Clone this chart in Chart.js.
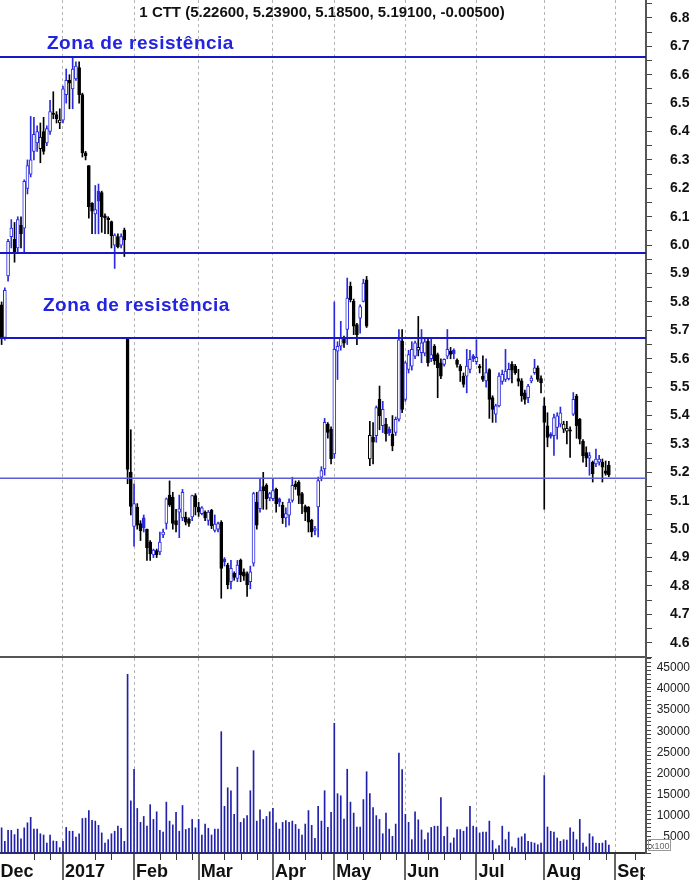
<!DOCTYPE html>
<html lang="pt">
<head>
<meta charset="UTF-8">
<title>CTT - Zona de resistência</title>
<script src="https://cdn.jsdelivr.net/npm/chart.js"></script>
<style>
  body { margin: 0; background: #fff; }
  #wrap { position: relative; width: 694px; height: 880px; }
  #priceChart { position: absolute; left: 0; top: 0; }
  #volChart { position: absolute; left: 0; top: 658px; }
</style>
</head>
<body>
<div id="wrap">
  <canvas id="priceChart" width="694" height="658"></canvas>
  <canvas id="volChart" width="694" height="222"></canvas>
</div>
<script>
// daily candles, Dec 2016 - Aug 2017 (one entry per trading day)
const opens = [
  5.79, 5.675, 5.892, 6.03, 6.02, 5.99, 6.07, 6.06, 6.20, 6.25,
  6.33, 6.36, 6.34, 6.40, 6.36, 6.40, 6.465, 6.46, 6.43, 6.44,
  6.53, 6.58, 6.55, 6.585, 6.625, 6.53, 6.325, 6.28, 6.147, 6.11,
  6.19, 6.185, 6.103, 6.095, 6.083, 6.00, 6.03, 6.00, 6.053, 5.674,
  5.20, 5.01, 5.078, 5.02, 5.04, 5.00, 4.955, 4.909, 4.925, 4.92,
  4.98, 5.02, 5.12, 5.113, 5.03, 5.06, 5.04, 5.043, 5.035, 5.043,
  5.118, 5.078, 5.055, 5.06, 5.031, 5.066, 4.996, 5.00, 5.025, 4.895,
  4.874, 4.815, 4.845, 4.827, 4.891, 4.85, 4.844, 4.815, 4.88, 5.095,
  5.072, 5.15, 5.154, 5.11, 5.107, 5.14, 5.107, 5.084, 5.04, 5.049,
  5.101, 5.16, 5.165, 5.125, 5.08, 5.078, 5.031, 4.996, 5.078, 5.183,
  5.212, 5.37, 5.352, 5.265, 5.627, 5.644, 5.674, 5.703, 5.855, 5.802,
  5.72, 5.743, 5.802, 5.878, 5.247, 5.323, 5.329, 5.457, 5.364, 5.37,
  5.352, 5.335, 5.341, 5.387, 5.662, 5.457, 5.562, 5.574, 5.609, 5.63,
  5.621, 5.62, 5.662, 5.60, 5.644, 5.615, 5.586, 5.58, 5.609, 5.627,
  5.63, 5.595, 5.574, 5.539, 5.539, 5.562, 5.61, 5.59, 5.574, 5.539,
  5.522, 5.562, 5.463, 5.405, 5.434, 5.52, 5.527, 5.53, 5.58, 5.574,
  5.53, 5.522, 5.48, 5.463, 5.522, 5.551, 5.568, 5.53, 5.434, 5.364,
  5.335, 5.329, 5.358, 5.37, 5.352, 5.345, 5.35, 5.405, 5.469, 5.387,
  5.31, 5.27, 5.25, 5.236, 5.23, 5.236, 5.236, 5.205, 5.226
];
const highs = [
  5.80, 5.85, 6.02, 6.09, 6.08, 6.10, 6.10, 6.23, 6.30, 6.453,
  6.45, 6.42, 6.43, 6.45, 6.42, 6.51, 6.54, 6.47, 6.48, 6.56,
  6.62, 6.60, 6.66, 6.645, 6.645, 6.535, 6.33, 6.28, 6.15, 6.21,
  6.215, 6.19, 6.11, 6.10, 6.085, 6.04, 6.04, 6.04, 6.06, 5.674,
  5.35, 5.16, 5.09, 5.03, 5.05, 5.00, 4.96, 4.93, 4.93, 4.99,
  5.00, 5.11, 5.17, 5.13, 5.07, 5.12, 5.14, 5.06, 5.04, 5.12,
  5.125, 5.095, 5.08, 5.065, 5.066, 5.07, 5.05, 5.025, 5.03, 4.90,
  4.88, 4.89, 4.85, 4.89, 4.895, 4.86, 4.85, 4.87, 5.13, 5.13,
  5.177, 5.20, 5.16, 5.13, 5.177, 5.145, 5.11, 5.095, 5.075, 5.107,
  5.183, 5.17, 5.171, 5.13, 5.085, 5.08, 5.035, 5.01, 5.183, 5.22,
  5.39, 5.375, 5.36, 5.80, 5.66, 5.732, 5.68, 5.884, 5.87, 5.81,
  5.725, 5.79, 5.88, 5.89, 5.38, 5.375, 5.434, 5.504, 5.45, 5.39,
  5.36, 5.40, 5.395, 5.703, 5.703, 5.59, 5.63, 5.66, 5.662, 5.749,
  5.703, 5.67, 5.67, 5.674, 5.65, 5.62, 5.60, 5.60, 5.703, 5.64,
  5.635, 5.60, 5.58, 5.55, 5.633, 5.63, 5.615, 5.667, 5.58, 5.61,
  5.60, 5.565, 5.47, 5.44, 5.55, 5.56, 5.633, 5.585, 5.59, 5.58,
  5.563, 5.53, 5.49, 5.51, 5.54, 5.598, 5.575, 5.54, 5.463, 5.41,
  5.34, 5.405, 5.41, 5.43, 5.38, 5.38, 5.36, 5.481, 5.475, 5.39,
  5.315, 5.29, 5.27, 5.24, 5.282, 5.26, 5.247, 5.24, 5.239
];
const lows = [
  5.65, 5.665, 5.873, 5.99, 5.94, 5.975, 5.99, 5.975, 6.18, 6.24,
  6.30, 6.33, 6.29, 6.32, 6.35, 6.39, 6.445, 6.43, 6.41, 6.43,
  6.50, 6.48, 6.48, 6.58, 6.50, 6.31, 6.30, 6.095, 6.04, 6.04,
  6.04, 6.045, 6.04, 6.04, 5.99, 5.918, 5.99, 5.99, 5.96, 5.16,
  5.05, 4.94, 5.00, 4.96, 4.99, 4.89, 4.89, 4.90, 4.90, 4.91,
  4.97, 5.00, 5.08, 5.00, 4.99, 4.97, 5.03, 5.015, 5.01, 5.03,
  5.05, 5.045, 5.05, 5.03, 5.014, 5.002, 4.99, 4.99, 4.757, 4.87,
  4.79, 4.79, 4.82, 4.815, 4.815, 4.82, 4.763, 4.79, 4.87, 5.00,
  5.06, 5.07, 5.07, 5.10, 5.10, 5.06, 5.08, 5.02, 5.008, 5.014,
  5.095, 5.14, 5.09, 5.055, 5.03, 4.99, 4.973, 4.98, 4.973, 5.17,
  5.19, 5.32, 5.23, 5.25, 5.527, 5.63, 5.64, 5.65, 5.80, 5.685,
  5.65, 5.69, 5.80, 5.71, 5.224, 5.23, 5.306, 5.35, 5.34, 5.31,
  5.33, 5.276, 5.33, 5.38, 5.41, 5.45, 5.55, 5.56, 5.60, 5.61,
  5.586, 5.61, 5.574, 5.59, 5.58, 5.463, 5.53, 5.574, 5.60, 5.60,
  5.60, 5.57, 5.52, 5.50, 5.48, 5.55, 5.59, 5.58, 5.55, 5.52,
  5.50, 5.39, 5.376, 5.376, 5.43, 5.51, 5.52, 5.525, 5.515, 5.545,
  5.504, 5.45, 5.44, 5.445, 5.515, 5.545, 5.52, 5.48, 5.07, 5.29,
  5.32, 5.26, 5.317, 5.36, 5.34, 5.30, 5.253, 5.40, 5.32, 5.30,
  5.236, 5.22, 5.19, 5.166, 5.22, 5.225, 5.166, 5.19, 5.185
];
const closes = [
  5.675, 5.841, 6.013, 6.06, 5.975, 6.09, 6.04, 6.225, 6.28, 6.30,
  6.39, 6.40, 6.38, 6.33, 6.41, 6.47, 6.46, 6.445, 6.44, 6.55,
  6.58, 6.57, 6.62, 6.63, 6.53, 6.325, 6.315, 6.135, 6.12, 6.125,
  6.155, 6.10, 6.096, 6.09, 6.032, 6.035, 5.994, 6.03, 6.018, 5.21,
  5.08, 5.09, 5.014, 4.995, 5.005, 4.935, 4.914, 4.926, 4.91, 4.955,
  4.99, 5.107, 5.085, 5.02, 5.015, 5.072, 5.13, 5.025, 5.02, 5.118,
  5.078, 5.06, 5.075, 5.04, 5.06, 5.012, 5.018, 5.02, 4.862, 4.885,
  4.804, 4.862, 4.83, 4.874, 4.839, 4.835, 4.804, 4.85, 5.125, 5.014,
  5.136, 5.135, 5.107, 5.125, 5.136, 5.09, 5.095, 5.04, 5.055, 5.095,
  5.154, 5.15, 5.119, 5.09, 5.06, 5.025, 4.99, 5.002, 5.171, 5.206,
  5.376, 5.341, 5.247, 5.633, 5.644, 5.674, 5.655, 5.814, 5.808, 5.715,
  5.685, 5.784, 5.866, 5.715, 5.33, 5.306, 5.428, 5.399, 5.422, 5.335,
  5.34, 5.294, 5.387, 5.667, 5.422, 5.586, 5.615, 5.633, 5.656, 5.64,
  5.656, 5.66, 5.586, 5.615, 5.592, 5.568, 5.539, 5.598, 5.633, 5.615,
  5.618, 5.58, 5.557, 5.51, 5.574, 5.598, 5.60, 5.605, 5.568, 5.527,
  5.551, 5.457, 5.422, 5.434, 5.539, 5.545, 5.557, 5.563, 5.56, 5.551,
  5.52, 5.47, 5.457, 5.504, 5.532, 5.568, 5.527, 5.515, 5.376, 5.323,
  5.327, 5.393, 5.399, 5.41, 5.37, 5.355, 5.345, 5.457, 5.364, 5.317,
  5.259, 5.25, 5.259, 5.195, 5.247, 5.247, 5.218, 5.196, 5.191
];
const volumes = [
  7100, 3900, 6500, 6500, 5500, 6800, 4500, 7100, 8300, 9600,
  6800, 6800, 5700, 5400, 3500, 5400, 4000, 3900, 2400, 3900,
  7200, 6300, 6300, 4900, 5700, 9300, 9400, 11200, 8900, 8700,
  7700, 5900, 3500, 4300, 5700, 6300, 7500, 7000, 3900, 43500,
  13500, 21000, 11700, 8400, 9800, 7500, 12600, 9100, 10900, 6500,
  6100, 13200, 8700, 7800, 10800, 6300, 12400, 6700, 7000, 9100,
  7100, 9100, 5400, 8000, 7000, 5400, 6800, 6800, 29900, 12200,
  16600, 15900, 10300, 21500, 8400, 9300, 10000, 15900, 25400, 8700,
  11400, 9100, 9800, 10900, 11700, 8300, 6800, 8400, 8800, 8400,
  8700, 7900, 6800, 5400, 8000, 11200, 7700, 4600, 12200, 8700,
  15900, 7200, 10800, 31900, 15200, 14700, 9200, 21000, 13200, 10600,
  7300, 7300, 13800, 20400, 15200, 11900, 10000, 9100, 5700, 10600,
  6800, 5100, 8000, 24800, 20900, 10300, 8400, 4300, 10900, 9000,
  6600, 4300, 5900, 7200, 7500, 7500, 14300, 5100, 7300, 3500,
  4700, 6700, 6700, 6300, 7300, 12200, 7500, 7200, 5900, 6100,
  6100, 8700, 4100, 2100, 2900, 7500, 4300, 6100, 2600, 2300,
  4700, 5000, 5700, 3900, 3700, 3500, 3100, 3500, 19500, 7300,
  6300, 6100, 4700, 3900, 4300, 4200, 7100, 6100, 4300, 9100,
  3500, 2600, 5700, 5000, 3500, 3400, 3500, 4100, 3000
];

// axis marks: slot index of the first trading day of each month, weekly ticks
const monthLabels = ['Dec', '2017', 'Feb', 'Mar', 'Apr', 'May', 'Jun', 'Jul', 'Aug', 'Sep'];
const monthStarts = [-1, 19, 41, 61, 84, 103, 125, 147, 168, 190];
const weekTicks = [10, 15, 29, 34, 49, 54, 59, 69, 74, 79, 89, 94, 99, 107, 112, 117, 122,
                   132, 137, 142, 152, 157, 162, 177, 182, 187, 196];
const volTickValues = [5000, 10000, 15000, 20000, 25000, 30000, 35000, 40000, 45000];

const resistance = [6.664, 5.974, 5.674];
const support = 5.179;
const titleText = '1 CTT (5.22600, 5.23900, 5.18500, 5.19100, -0.00500)';
const zoneText = 'Zona de resistência';

const SLOTS = 200;
const slots = Array.from({ length: SLOTS }, (_, i) => i);

const F = '"Liberation Sans", Arial, sans-serif';
const BLUE = '#2a2ade';
const BLACK = '#000000';

// metastock style: colour vs previous close, hollow when close > open
const lineColor = closes.map((c, i) => (i === 0 ? c >= opens[i] : c >= closes[i - 1]) ? BLUE : BLACK);
const bodyFill = closes.map((c, i) => c > opens[i] ? '#ffffff' : lineColor[i]);

const gridColor = ctx => monthStarts.includes(ctx.index) ? '#b4b4b4' : 'transparent';

function hline(ctx, x1, x2, y) {
  ctx.beginPath();
  ctx.moveTo(x1, y);
  ctx.lineTo(x2, y);
  ctx.stroke();
}

const priceDecor = {
  id: 'priceDecor',
  afterDatasetsDraw(chart) {
    const { ctx, chartArea: a, scales: { y } } = chart;
    ctx.save();
    ctx.strokeStyle = '#1717c9';
    ctx.lineWidth = 2;
    resistance.forEach(v => hline(ctx, a.left, a.right, Math.round(y.getPixelForValue(v))));
    ctx.strokeStyle = '#5c5cd6';
    ctx.lineWidth = 1.5;
    hline(ctx, a.left, a.right, y.getPixelForValue(support));

    ctx.fillStyle = '#2323e2';
    ctx.font = 'bold 19px ' + F;
    ctx.letterSpacing = '0.5px';
    ctx.textAlign = 'left';
    ctx.fillText(zoneText, 47, y.getPixelForValue(resistance[0]) - 8);
    ctx.fillText(zoneText, 43, y.getPixelForValue(resistance[2]) - 27);
    ctx.letterSpacing = '0px';

    ctx.fillStyle = '#111';
    ctx.font = 'bold 15px ' + F;
    ctx.textAlign = 'center';
    ctx.fillText(titleText, (a.left + a.right) / 2 - 1, 17);
    ctx.restore();
  }
};

const volDecor = {
  id: 'volDecor',
  afterDraw(chart) {
    const { ctx, chartArea: a, scales: { x, y } } = chart;
    const H = chart.height;
    ctx.save();
    ctx.strokeStyle = '#333';
    ctx.lineWidth = 1.5;
    monthStarts.forEach(m => {
      const px = Math.round(x.getPixelForValue(m));
      ctx.beginPath(); ctx.moveTo(px, a.bottom); ctx.lineTo(px, H); ctx.stroke();
    });
    ctx.lineWidth = 1;
    weekTicks.forEach(w => {
      const px = Math.round(x.getPixelForValue(w)) + 0.5;
      ctx.beginPath(); ctx.moveTo(px, a.bottom); ctx.lineTo(px, a.bottom + 7); ctx.stroke();
    });

    // volume axis labels
    ctx.fillStyle = '#222';
    ctx.font = '12px ' + F;
    ctx.textAlign = 'right';
    ctx.textBaseline = 'middle';
    volTickValues.forEach(v => ctx.fillText(String(v), a.right + 44, y.getPixelForValue(v)));
    ctx.textBaseline = 'alphabetic';

    // month names, cut at the right axis like the original
    ctx.save();
    ctx.beginPath();
    ctx.rect(0, a.bottom, a.right - 1, H - a.bottom);
    ctx.clip();
    ctx.fillStyle = '#111';
    ctx.font = 'bold 18px ' + F;
    ctx.textAlign = 'left';
    monthLabels.forEach((t, k) => ctx.fillText(t, x.getPixelForValue(monthStarts[k]) + 2, H - 3.5));
    ctx.restore();

    // "x100" volume unit box
    ctx.strokeStyle = '#999';
    ctx.strokeRect(a.right + 2.5, a.bottom - 13.5, 22, 11);
    ctx.fillStyle = '#666';
    ctx.font = '9px ' + F;
    ctx.textAlign = 'left';
    ctx.fillText('x100', a.right + 4, a.bottom - 4.5);
    ctx.restore();
  }
};

Chart.defaults.font.family = F;

const commonX = (height, borderColor) => ({
  type: 'category',
  offset: true,
  ticks: { display: false, autoSkip: false },
  grid: { offset: false, drawTicks: false, color: gridColor, lineWidth: 1 },
  border: { display: true, color: borderColor, width: 2, dash: [3, 3] },
  afterFit: s => { s.height = height; }
});

const fixY = s => { s.width = 44; s.paddingTop = 0; s.paddingBottom = 0; };

new Chart(document.getElementById('priceChart'), {
  type: 'bar',
  data: {
    labels: slots,
    datasets: [
      {
        label: 'body',
        data: opens.map((o, i) => [Math.min(o, closes[i]), Math.max(o, closes[i])]),
        backgroundColor: bodyFill,
        borderColor: lineColor,
        borderWidth: 1,
        borderSkipped: false,
        barThickness: 3,
        minBarLength: 1,
        grouped: false,
        order: 0
      },
      {
        label: 'wick',
        data: lows.map((l, i) => [l, highs[i]]),
        backgroundColor: lineColor,
        barThickness: 1,
        grouped: false,
        order: 1
      }
    ]
  },
  options: {
    responsive: false,
    animation: false,
    events: [],
    layout: { padding: { right: 4 } },
    plugins: { legend: { display: false }, tooltip: { enabled: false } },
    scales: {
      x: commonX(1, '#555'),
      y: {
        position: 'right',
        min: 4.55,
        max: 6.863,
        ticks: {
          stepSize: 0.05,
          autoSkip: false,
          includeBounds: false,
          padding: 18,
          color: '#111',
          font: { size: 14, weight: 'bold' },
          callback: v => Math.round(v * 20) % 2 === 0 ? v.toFixed(1) : ''
        },
        grid: { drawOnChartArea: false, tickLength: 6, tickColor: '#444' },
        border: { display: true, color: '#555', width: 2 },
        afterFit: fixY
      }
    }
  },
  plugins: [priceDecor]
});

new Chart(document.getElementById('volChart'), {
  type: 'bar',
  data: {
    labels: slots,
    datasets: [{
      label: 'volume',
      data: volumes,
      backgroundColor: '#2020a8',
      barThickness: 1
    }]
  },
  options: {
    responsive: false,
    animation: false,
    events: [],
    layout: { padding: { right: 4 } },
    plugins: { legend: { display: false }, tooltip: { enabled: false } },
    scales: {
      x: commonX(27, '#333'),
      y: {
        position: 'right',
        min: 1135,
        max: 47370,
        ticks: { display: false, stepSize: 1000, autoSkip: false, includeBounds: false },
        grid: { drawOnChartArea: false, tickLength: 5, tickColor: '#444' },
        border: { display: true, color: '#555', width: 2 },
        afterFit: fixY
      }
    }
  },
  plugins: [volDecor]
});
</script>
</body>
</html>
